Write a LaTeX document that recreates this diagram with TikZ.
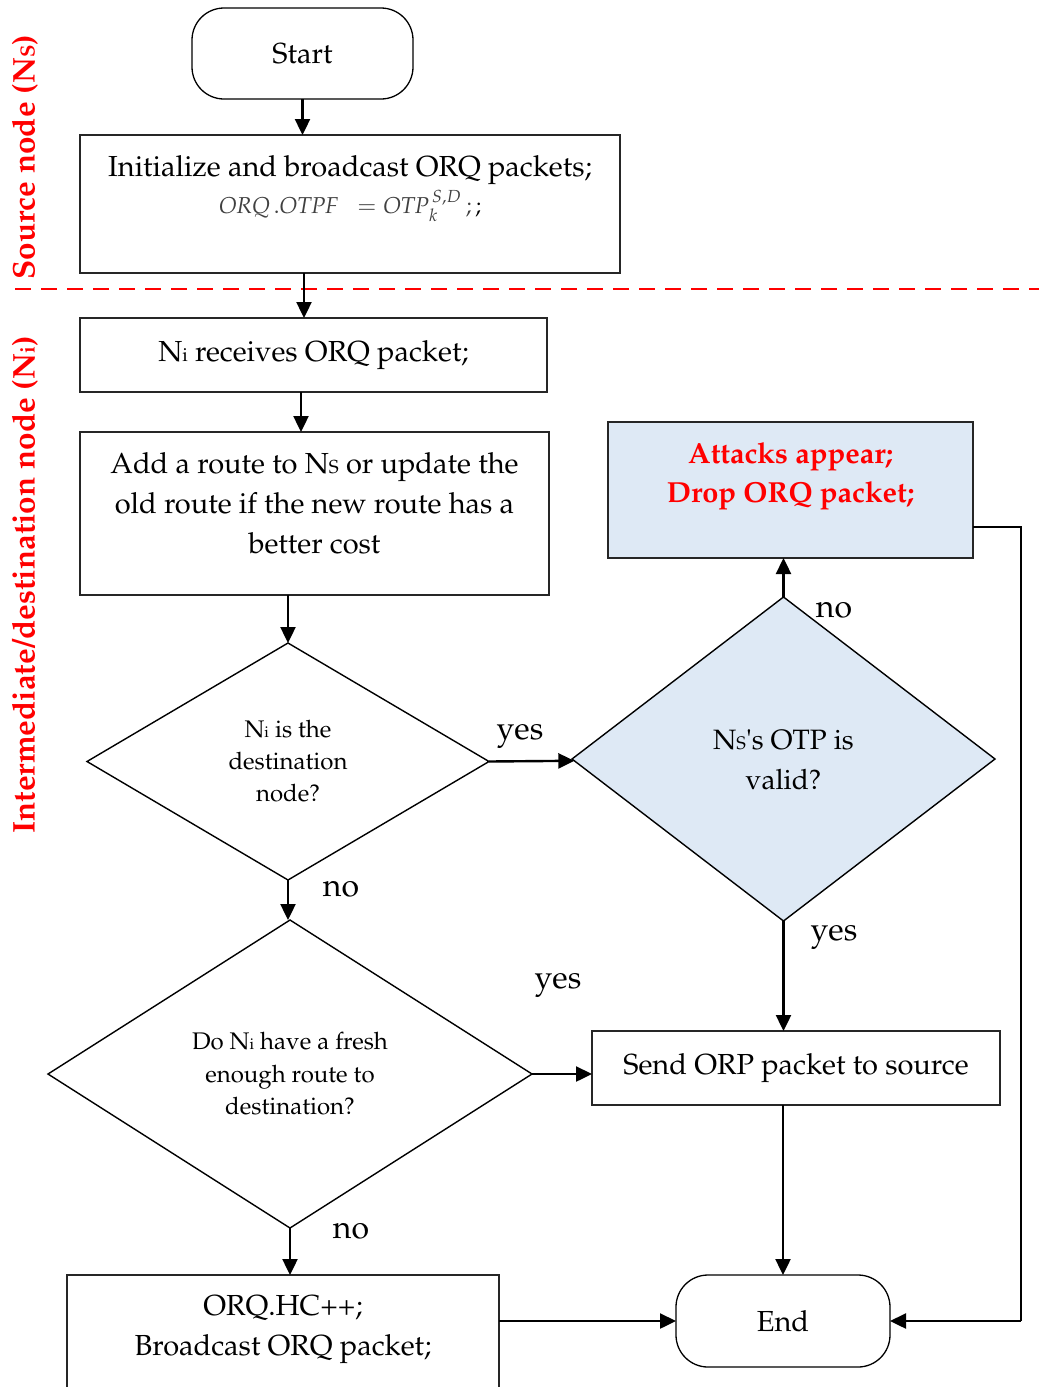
\documentclass[tikz,border=0pt]{standalone}
\usepackage[T1]{fontenc}
\usepackage{mathpazo}
\usepackage{textcomp}
\usepackage{graphicx}
\usetikzlibrary{shapes.geometric,arrows.meta,calc}
\definecolor{bluefill}{RGB}{222,233,245}
\definecolor{redtxt}{RGB}{255,0,0}
\newcommand{\sm}[1]{\scalebox{0.65}{#1}}
\newcommand{\fs}[2]{\fontsize{#1}{#2}\selectfont}
\begin{document}
\begin{tikzpicture}[x=0.5pt,y=-0.5pt,
  box/.style={draw=black!85, line width=0.7pt, rectangle, inner sep=0pt, outer sep=0pt},
  term/.style={draw=black, line width=0.65pt, rounded corners=16pt, inner sep=0pt, outer sep=0pt, font=\fs{14.5}{20}},
  dia/.style={draw=black, line width=0.7pt, diamond, inner sep=0pt, outer sep=0pt, aspect=2, align=center},
  arr/.style={line width=1.2pt, -{Triangle[length=8pt,width=7.5pt]}},
  thinline/.style={line width=0.7pt},
  lbl/.style={font=\fs{16}{18}, inner sep=0pt},
  txt/.style={align=center, inner sep=0pt},
  sidelbl/.style={rotate=90, text=redtxt, font=\bfseries\fs{15.7}{18}, inner sep=0pt}]
\useasboundingbox (0,0) rectangle (1039,1387);
\clip (0,0) rectangle (1039,1387);

% separator
\draw[redtxt, line width=1.2pt, dash pattern=on 8pt off 5pt] (15,289) -- (1039,289);

% side labels
\node[sidelbl] (srcl) at (25,157) {Source node (N\sm{S})};
\node[sidelbl] (intl) at (25,585) {Intermediate/destination node (N\sm{i})};

% nodes
\node[term, minimum width=110.5pt, minimum height=45.5pt] (start) at (302.5,53.5) {Start};
\node[box, minimum width=270pt, minimum height=69pt] (init) at (350,204) {};
\node[txt, font=\fs{14.5}{20}] (initt) at (350,170) {Initialize and broadcast ORQ packets;};
\node[txt, font=\fs{11.5}{14}] (initf) at (350,206) {\textcolor{black!75}{$\mathit{ORQ}\,.\mathit{OTPF}\;\;=\mathit{OTP}_{k}^{\,S,D}$\,;}\,;};

\node[box, minimum width=233.5pt, minimum height=37pt, font=\fs{14.5}{20}] (ni) at (313.5,355) {N\sm{i} receives ORQ packet;};

\node[box, minimum width=234.5pt, minimum height=81.5pt] (add) at (314.5,513.5) {};
\node[txt, font=\fs{14.5}{20}] (addt) at (314.5,503) {Add a route to N\sm{S} or update the\\old route if the new route has a\\better cost};

\node[dia, fill=white, minimum width=201pt, minimum height=118.5pt, font=\fs{12}{16}] (d1) at (288,761.5) {N\sm{i} is the\\destination\\node?};

\node[dia, fill=bluefill, minimum width=211.5pt, minimum height=162pt, font=\fs{14}{20}, aspect=1.3] (d2) at (783.5,759) {N\sm{S}\textquotesingle s OTP is\\valid?};

\node[box, fill=bluefill, minimum width=182.5pt, minimum height=68pt] (att) at (790.5,490) {};
\node[txt, text=redtxt, font=\bfseries\fs{14.5}{19.5}] (attt) at (790.5,476.5) {Attacks appear;\\Drop ORQ packet;};

\node[dia, fill=white, minimum width=242pt, minimum height=154pt, font=\fs{12}{16.25}] (d3) at (290,1074) {Do N\sm{i} have a fresh\\enough route to\\destination?};

\node[box, minimum width=204pt, minimum height=37pt, font=\fs{14.5}{20}] (send) at (796,1068) {Send ORP packet to source};

\node[term, minimum width=107pt, minimum height=46pt] (end) at (783,1321) {End};

\node[box, minimum width=216pt, minimum height=65pt] (orq) at (283,1340) {};
\node[txt, font=\fs{14.5}{20}] (orqt) at (283,1330) {ORQ.HC++;\\Broadcast ORQ packet;};

\coordinate (corner) at (1021,1321);

% connectors
\draw[arr] (start.south) -- (start.south |- init.north);
\draw[arr] ([xshift=-23pt]init.south) -- ([xshift=-4.75pt]ni.north);
\draw[arr] ([xshift=-6.25pt]ni.south) -- ([xshift=-6.75pt]add.north);
\draw[arr] ([xshift=-13.25pt]add.south) -- (d1.north);
\draw[arr] (d1.east) -- (d2);
\draw[arr] (d2.north) -- (d2.north |- att.south);
\draw[thinline] ([yshift=-18.5pt]att.east) -| (corner);
\draw[arr] (corner) -- (end.east);
\draw[arr] (d2.south) -- (d2.south |- send.north);
\draw[arr] (d1.south) -- (d1.south |- d3.north);
\draw[arr] (d3.east) -- (d3.east -| send.west);
\draw[arr] (end.north |- send.south) -- (end.north);
\draw[arr] (d3.south) -- (d3.south |- orq.north);
\draw[arr] (end.west -| orq.east) -- (end.west);

% labels
\node[lbl] (l1) at (520,736) {yes};
\node[lbl] (l2) at (834,610) {no};
\node[lbl] (l3) at (834,937) {yes};
\node[lbl] (l4) at (341,889) {no};
\node[lbl] (l5) at (558,985) {yes};
\node[lbl] (l6) at (351,1231) {no};
\end{tikzpicture}
\end{document}
